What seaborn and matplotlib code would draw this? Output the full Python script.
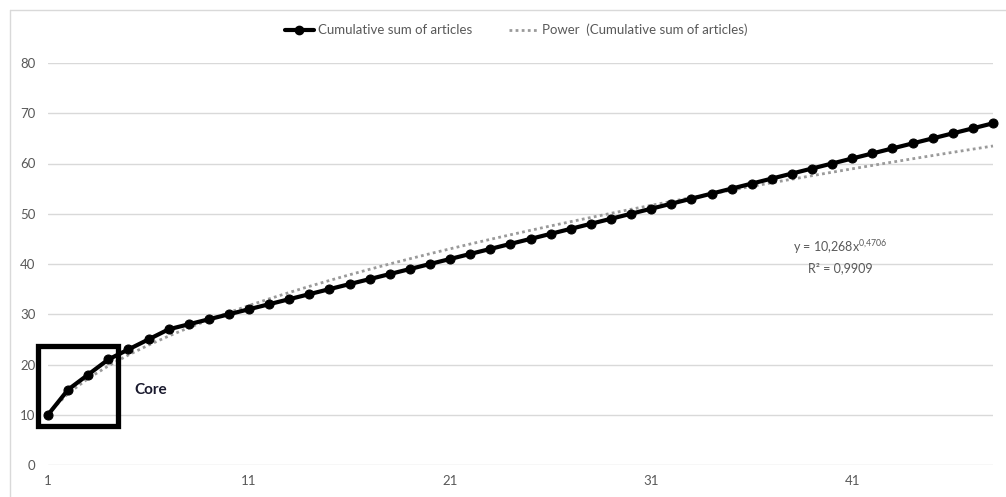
import numpy as np
import pandas as pd
import matplotlib.pyplot as plt
from matplotlib.patches import Rectangle
from matplotlib.lines import Line2D
import seaborn as sns

# cumulative number of articles per ranked source
cum_articles = [10, 15, 18, 21, 23, 25, 27, 28, 29, 30,
                31, 32, 33, 34, 35, 36, 37, 38, 39, 40,
                41, 42, 43, 44, 45, 46, 47, 48, 49, 50,
                51, 52, 53, 54, 55, 56, 57, 58, 59, 60,
                61, 62, 63, 64, 65, 66, 67, 68]
rank = list(range(1, len(cum_articles) + 1))
x_ticks = [1, 11, 21, 31, 41]
y_ticks = [0, 10, 20, 30, 40, 50, 60, 70, 80]
core_sources = 4
eq_text = "y = 10,268x$^{0{,}4706}$"
r2_text = "R² = 0,9909"

df = pd.DataFrame({"rank": rank, "cum": cum_articles})

# power trendline, fitted in log-log space like Excel does
b, log_a = np.polyfit(np.log(df["rank"]), np.log(df["cum"]), 1)
df["power"] = np.exp(log_a) * df["rank"] ** b

sns.set_style("white")
plt.rcParams['font.family'] = ['Lato', 'DejaVu Sans']
plt.rcParams['mathtext.fontset'] = 'custom'
plt.rcParams['mathtext.rm'] = 'Lato'
plt.rcParams['mathtext.it'] = 'Lato'
grey = "#595959"
trend_grey = "#9a9a9a"

fig = plt.figure(figsize=(10.06, 4.97), dpi=100)
ax = fig.add_axes([48 / 1006, 32 / 497, 945 / 1006, 402 / 497])

sns.lineplot(data=df, x="rank", y="power", ax=ax, color=trend_grey,
             linestyle=(0, (1, 1.2)), linewidth=2, zorder=2, clip_on=False)
sns.lineplot(data=df, x="rank", y="cum", ax=ax, color="black", linewidth=3,
             marker="o", markersize=6.5, markeredgecolor="black", zorder=3,
             clip_on=False)

ax.set_xlim(1, len(rank))
ax.set_ylim(0, 80)
ax.set_xticks(x_ticks)
ax.set_yticks(y_ticks)
ax.grid(axis="y", color="#d9d9d9", linewidth=1)
ax.set_axisbelow(True)
for s in ax.spines.values():
    s.set_visible(False)
ax.tick_params(length=0, colors=grey, labelsize=9.5)
ax.tick_params(axis="y", pad=9)
ax.tick_params(axis="x", pad=7)
ax.set_xlabel("")
ax.set_ylabel("")

# box around the core zone
ax.add_patch(Rectangle((0.5, 7.8), core_sources, 15.9, fill=False,
                       edgecolor="black", linewidth=3.8, clip_on=False, zorder=4))
ax.text(core_sources + 1.3, 14.9, "Core", fontsize=11, fontweight="bold",
        color="#1a1a2e", va="center", ha="left")

ax.text(40.4, 43.4, eq_text, fontsize=9, color=grey, ha="center", va="center")
ax.text(40.4, 39.2, r2_text, fontsize=9, color=grey, ha="center", va="center")

handles = [
    Line2D([], [], color="black", linewidth=3, marker="o", markersize=6),
    Line2D([], [], color=trend_grey, linewidth=2, linestyle=(0, (1, 1.2))),
]
fig.legend(handles, ["Cumulative sum of articles", "Power  (Cumulative sum of articles)"],
           loc="center", bbox_to_anchor=(516 / 1006, 1 - 30 / 497), ncol=2,
           frameon=False, fontsize=9.5, labelcolor=grey, handlelength=2.2,
           columnspacing=2.8, handletextpad=0.3)

# chart area border (top and left edges visible)
fig.add_artist(Line2D([10 / 1006, 1], [1 - 10 / 497, 1 - 10 / 497],
                      color="#d9d9d9", linewidth=1, transform=fig.transFigure))
fig.add_artist(Line2D([10 / 1006, 10 / 1006], [0, 1 - 10 / 497],
                      color="#d9d9d9", linewidth=1, transform=fig.transFigure))

fig.savefig("out.png", dpi=100)
